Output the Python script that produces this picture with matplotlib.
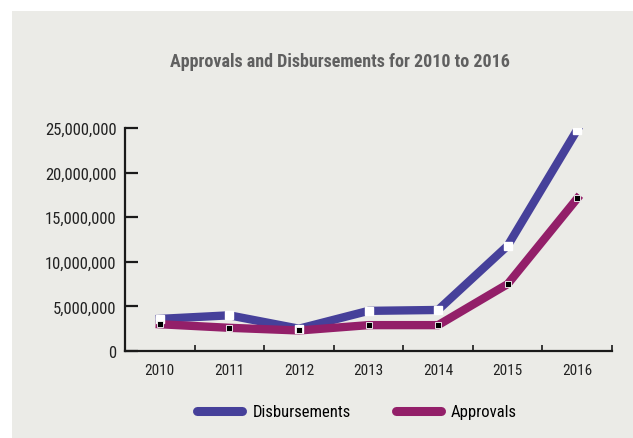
import matplotlib
matplotlib.use("Agg")
import matplotlib.pyplot as plt
from matplotlib import font_manager
from matplotlib.lines import Line2D
from matplotlib.patches import Rectangle
from matplotlib.ticker import FuncFormatter

# yearly totals
years = ["2010", "2011", "2012", "2013", "2014", "2015", "2016"]
disbursements = [3600000, 4000000, 2500000, 4500000, 4600000, 11800000, 24800000]
approvals = [3000000, 2600000, 2300000, 2900000, 2900000, 7500000, 17100000]

BLUE = "#46409a"
PURPLE = "#931f69"
BG = "#ebebe7"

# prefer a narrow face if one is around
installed = {f.name for f in font_manager.fontManager.ttflist}
narrow = [n for n in ["Roboto Condensed", "Liberation Sans Narrow", "DejaVu Sans Condensed",
                      "Open Sans Condensed", "Noto Sans Condensed", "Arial Narrow"]
          if n in installed]
narrow += sorted(n for n in installed if "Condensed" in n or "Narrow" in n)
FONT = (narrow[:1] or []) + ["DejaVu Sans"]
plt.rcParams["font.family"] = FONT
plt.rcParams["font.stretch"] = "condensed"

fig = plt.figure(figsize=(6.33, 4.39), dpi=100)
fig.patch.set_facecolor("white")
# grey panel, leaving a thin white margin top/left
fig.patches.append(Rectangle((12 / 633, 0), 1, 1 - 12 / 439, transform=fig.transFigure,
                             facecolor=BG, edgecolor="none", zorder=-10))

ax = fig.add_axes([125 / 633, 87 / 439, 487 / 633, 223 / 439])
ax.set_facecolor("none")

x = list(range(len(years)))
ax.plot(x, disbursements, color=BLUE, lw=6, solid_joinstyle="miter", zorder=2)
ax.plot(x, approvals, color=PURPLE, lw=6, solid_joinstyle="miter", zorder=3)
ax.plot(x, disbursements, ls="none", marker="s", ms=6, mfc="white", mec="white", zorder=4)
ax.plot(x, approvals, ls="none", marker="s", ms=4.5, mfc="black", mec="white", mew=0.6, zorder=5)

ax.set_xlim(-0.5, 6.5)
ax.set_ylim(0, 25000000)
ax.set_yticks(range(0, 25000001, 5000000))
ax.yaxis.set_major_formatter(FuncFormatter(lambda v, p: f"{int(v):,}"))
ax.set_xticks(x)
ax.set_xticklabels(years)
ax.set_xticks([i + 0.5 for i in x], minor=True)

for side in ["top", "right"]:
    ax.spines[side].set_visible(False)
for side in ["left", "bottom"]:
    ax.spines[side].set_linewidth(1.6)
    ax.spines[side].set_color("#1a1a1a")

ax.tick_params(axis="y", direction="in", length=9, width=1.6, color="#1a1a1a",
               labelsize=12, labelcolor="#222222", pad=6)
ax.tick_params(axis="x", which="major", length=0, labelsize=11, labelcolor="#222222", pad=9)
ax.tick_params(axis="x", which="minor", direction="in", length=4, width=1.2, color="#1a1a1a")

fig.text(340 / 633, 1 - 62 / 439, "Approvals and Disbursements for 2010 to 2016",
         ha="center", va="center", fontsize=13, fontweight="bold", color="#606060")

handles = [Line2D([], [], color=BLUE, lw=6.5, solid_capstyle="round"),
           Line2D([], [], color=PURPLE, lw=6.5, solid_capstyle="round")]
fig.legend(handles, ["Disbursements", "Approvals"], loc="center",
           bbox_to_anchor=(357 / 633, 26 / 439), ncol=2, frameon=False,
           fontsize=12, handlelength=2.7, handletextpad=0.6, columnspacing=2.7)

fig.savefig("out.png", dpi=100, facecolor=fig.get_facecolor())
